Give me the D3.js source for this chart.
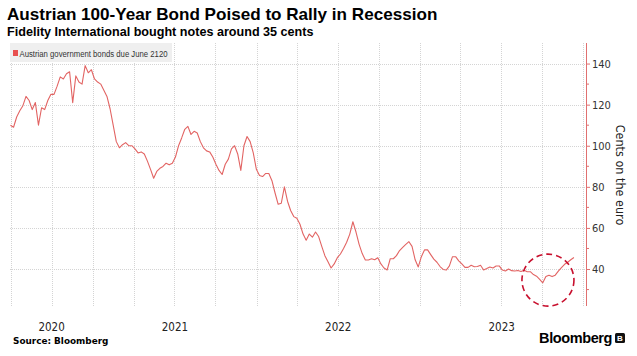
<!DOCTYPE html>
<html><head><meta charset="utf-8">
<script src="https://cdn.jsdelivr.net/npm/d3@7"></script>
<style>
html,body{margin:0;padding:0;background:#fff;}
svg{display:block;}
</style></head>
<body>
<script>
// ---- data ----
const title = "Austrian 100-Year Bond Poised to Rally in Recession";
const subtitle = "Fidelity International bought notes around 35 cents";
const seriesName = "Austrian government bonds due June 2120";
const firstDate = "2020-06-30";
const lastDate = "2023-12-11";
// weekly closing prices, cents on the euro
const prices = [
110,109,114,117,119.5,124,122,117.6,121,110,118.5,117.6,122,125,125,129,133.5,132.5,135,136,
121,134,131,130,139,135.5,137,132.5,131,130,127,124,118,110,102,99,100.5,101.5,100,100,
98.5,96.5,97,96,92.5,88.5,84.2,87.5,89,89.9,91.5,90.7,91.5,94.5,100,103.8,108,109.4,105.5,107,
106.2,102,99,97.5,97,94.5,91,88,86,91,93.5,98.5,100,96,88,100,104.5,102,96.5,88.5,
85.5,85,86.5,86.5,83,77,71.5,72,80,73,68.5,65.5,64.7,61.8,57,54,57,55.5,58,55.8,
51,46.5,43.5,40.5,42.5,45.5,47.3,50,53,57,63,58,52,47.5,44.4,44.4,45,44.5,45.5,42.5,
40.5,39.5,45,45,46.5,49,50.5,52,53.3,51,44.5,41,46,49.3,49.3,47,44.8,43.3,41.2,39.8,
39.5,41.5,46,46,44,42.5,40.8,40.8,41.8,41.1,41.2,41.8,39.5,40.2,41,40.5,41.5,41.5,39.5,39,
40,39.2,39,39.3,38.8,39.4,38.7,38.7,37.3,36.5,35,33.3,36.3,37,36.3,37,39,40.7,42.3,43.3,
44.5,45.6
];
const yTicks = [40, 60, 80, 100, 120, 140];
const yMinorTicks = [30, 50, 70, 90, 110, 130];
const yearLabels = ["2020", "2021", "2022", "2023"];
const axisTitle = "Cents on the euro";
const sourceText = "Source: Bloomberg";
// annotation: circle around the autumn-2023 low
const circleDate = "2023-10-14";
const circleValue = 34.6;

// ---- layout ----
const W = 637, H = 356;
const plot = {left: 10, right: 586, top: 43, bottom: 306};
const parse = d3.utcParse("%Y-%m-%d");

const svg = d3.select("body").append("svg").attr("width", W).attr("height", H)
  .style("font-family", "'Liberation Sans', Arial, sans-serif");

const x = d3.scaleUtc()
  .domain([parse("2020-06-29"), parse("2024-01-07")])
  .range([plot.left, plot.right]);
const y = d3.scaleLinear().domain([22, 150]).range([plot.bottom, plot.top]);

// evenly spaced observation dates between first and last
const dateIdx = d3.scaleLinear().domain([0, prices.length - 1])
  .range([parse(firstDate).getTime(), parse(lastDate).getTime()]);
const data = prices.map((v, i) => ({date: new Date(dateIdx(i)), value: v}));

// titles
svg.append("text").attr("x", 7).attr("y", 20)
  .attr("font-size", 17.1).attr("font-weight", "bold").attr("fill", "#000")
  .text(title);
svg.append("text").attr("x", 7).attr("y", 36)
  .attr("font-size", 12.6).attr("font-weight", "bold").attr("fill", "#000")
  .text(subtitle);

// grid
const grid = svg.append("g");
const quarters = d3.utcMonth.every(3).range(parse("2020-07-01"), parse("2024-01-02"));
grid.selectAll("line.v").data(quarters).join("line")
  .attr("x1", d => Math.round(x(d)) + 0.5).attr("x2", d => Math.round(x(d)) + 0.5)
  .attr("y1", plot.top).attr("y2", plot.bottom)
  .attr("stroke", "#d4d4d4").attr("stroke-width", 1).attr("stroke-dasharray", "1,1");
grid.selectAll("line.h").data(yTicks).join("line")
  .attr("x1", plot.left).attr("x2", plot.right)
  .attr("y1", d => Math.round(y(d)) + 0.5).attr("y2", d => Math.round(y(d)) + 0.5)
  .attr("stroke", "#d4d4d4").attr("stroke-width", 1).attr("stroke-dasharray", "1,1");

// legend
const leg = svg.append("g");
leg.append("rect").attr("x", 10).attr("y", 43).attr("width", 162).attr("height", 19).attr("fill", "#efefef");
leg.append("rect").attr("x", 13).attr("y", 50).attr("width", 5).attr("height", 6).attr("fill", "#e8504f");
leg.append("text").attr("x", 19.5).attr("y", 56.5).attr("font-size", 8.4).attr("fill", "#333")
  .attr("textLength", 148).attr("lengthAdjust", "spacingAndGlyphs")
  .text(seriesName);

// line
svg.append("path").datum(data)
  .attr("fill", "none").attr("stroke", "#e26463").attr("stroke-width", 1.1)
  .attr("stroke-linejoin", "round")
  .attr("d", d3.line().x(d => x(d.date)).y(d => y(d.value)));

// annotation circle
svg.append("circle")
  .attr("cx", x(parse(circleDate))).attr("cy", y(circleValue)).attr("r", 26)
  .attr("fill", "none").attr("stroke", "#c8102e").attr("stroke-width", 1.6)
  .attr("stroke-dasharray", "6,4");

// y axis (right)
const yAxis = d3.axisRight(y).tickValues(yTicks).tickSize(4).tickPadding(2);
const gy = svg.append("g").attr("transform", `translate(${plot.right},0)`).call(yAxis);
gy.select(".domain").attr("stroke", "#e07070").attr("d", `M0.5,${plot.top}V${plot.bottom}`);
gy.selectAll(".tick line").attr("stroke", "#e07070");
gy.selectAll(".tick text").attr("font-size", 11).attr("fill", "#333")
  .style("font-family", "'DejaVu Sans Condensed', 'Liberation Sans', sans-serif");
gy.append("g").selectAll("line").data(yMinorTicks).join("line")
  .attr("x1", 0).attr("x2", 3).attr("y1", d => y(d)).attr("y2", d => y(d))
  .attr("stroke", "#e07070");

svg.append("text")
  .attr("transform", `translate(616,175) rotate(90)`)
  .attr("text-anchor", "middle").attr("font-size", 12.5).attr("fill", "#222")
  .style("font-family", "'DejaVu Sans Condensed', 'Liberation Sans', sans-serif")
  .text(axisTitle);

// x year labels
const yearPos = yearLabels.map((yr, i) => {
  const s = i === 0 ? x.domain()[0] : parse(yr + "-01-01");
  const e = parse((+yr + 1) + "-01-01");
  return {label: yr, x: (x(s) + x(e)) / 2};
});
svg.append("g").selectAll("text").data(yearPos).join("text")
  .attr("x", d => d.x).attr("y", 331).attr("text-anchor", "middle")
  .attr("font-size", 11.5).attr("fill", "#222")
  .style("font-family", "'DejaVu Sans Condensed', 'Liberation Sans', sans-serif")
  .text(d => d.label);

// footer
svg.append("text").attr("x", 13).attr("y", 344).attr("font-size", 8.9)
  .attr("font-weight", "bold").attr("fill", "#000")
  .style("font-family", "'DejaVu Sans', sans-serif")
  .text(sourceText);
svg.append("text").attr("x", 612).attr("y", 343).attr("text-anchor", "end")
  .attr("font-size", 14.5).attr("font-weight", "bold").attr("fill", "#000")
  .attr("letter-spacing", -0.4)
  .text("Bloomberg");
const logo = svg.append("g").attr("transform", "translate(615,333)");
logo.append("rect").attr("width", 10).attr("height", 10).attr("rx", 1.5).attr("fill", "#111");
logo.append("text").attr("x", 5).attr("y", 8.3).attr("text-anchor", "middle")
  .attr("font-size", 8).attr("font-weight", "bold").attr("fill", "#fff").text("B");
</script>
</body></html>
